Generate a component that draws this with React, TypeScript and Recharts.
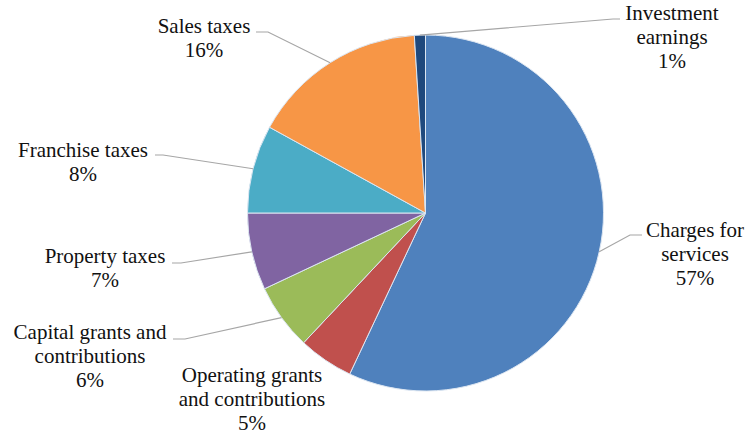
import { PieChart, Pie, Cell } from 'recharts';

const categories = [
  'Charges for services',
  'Operating grants and contributions',
  'Capital grants and contributions',
  'Property taxes',
  'Franchise taxes',
  'Sales taxes',
  'Investment earnings',
];
const shares = [57, 5, 6, 7, 8, 16, 1];
const labelLines = [
  ['Charges for', 'services'],
  ['Operating grants', 'and contributions'],
  ['Capital grants and', 'contributions'],
  ['Property taxes'],
  ['Franchise taxes'],
  ['Sales taxes'],
  ['Investment', 'earnings'],
];

const COLORS = ['#4F81BD', '#C0504D', '#9BBB59', '#8064A2', '#4BACC6', '#F79646', '#1F497D'];

// where each label sits (text centre x, first baseline y) and the leader elbow/end points
const LABEL_POS = [
  { x: 695, y: 237, line: [[630, 235], [642, 235]] },
  { x: 252, y: 382, line: null },
  { x: 90, y: 339, line: [[185, 339], [173, 339]] },
  { x: 105, y: 263, line: [[181, 263], [172, 263]] },
  { x: 83, y: 157, line: [[163, 155], [155, 155]] },
  { x: 204, y: 33, line: [[268, 32], [256, 32]] },
  { x: 672, y: 20, line: [[613, 19], [620, 19]] },
];

const data = categories.map((name, i) => ({ name, value: shares[i] }));

const LINE_H = 24;

const SliceLabel = (props: any) => {
  const { cx, cy, midAngle, outerRadius, index, percent = 0 } = props;
  const pos = LABEL_POS[index];
  const RADIAN = Math.PI / 180;
  const ex = cx + outerRadius * Math.cos(-midAngle * RADIAN);
  const ey = cy + outerRadius * Math.sin(-midAngle * RADIAN);
  const lines = [...labelLines[index], `${Math.round(percent * 100)}%`];
  return (
    <g>
      {pos.line && (
        <polyline
          points={`${ex},${ey} ${pos.line.map((p) => p.join(',')).join(' ')}`}
          fill="none"
          stroke="#A6A6A6"
          strokeWidth={1.2}
        />
      )}
      <text
        x={pos.x}
        y={pos.y}
        textAnchor="middle"
        fill="#111"
        style={{ fontFamily: '"Liberation Serif", "Times New Roman", serif', fontSize: 21 }}
      >
        {lines.map((l, i) => (
          <tspan key={i} x={pos.x} y={pos.y + i * LINE_H}>
            {l}
          </tspan>
        ))}
      </text>
    </g>
  );
};

export default function App() {
  return (
    <div style={{ position: 'absolute', left: 0, top: 0, width: 747, height: 432, background: '#fff' }}>
      <PieChart width={747} height={432} margin={{ top: 0, right: 0, bottom: 0, left: 0 }}>
        <Pie
          data={data}
          dataKey="value"
          nameKey="name"
          cx={425.5}
          cy={213}
          outerRadius={178}
          startAngle={90}
          endAngle={-270}
          labelLine={false}
          label={SliceLabel}
          isAnimationActive={false}
          stroke="#dce6f2"
          strokeWidth={1}
        >
          {data.map((entry, index) => (
            <Cell key={`cell-${index}`} fill={COLORS[index % COLORS.length]} />
          ))}
        </Pie>
      </PieChart>
    </div>
  );
}
